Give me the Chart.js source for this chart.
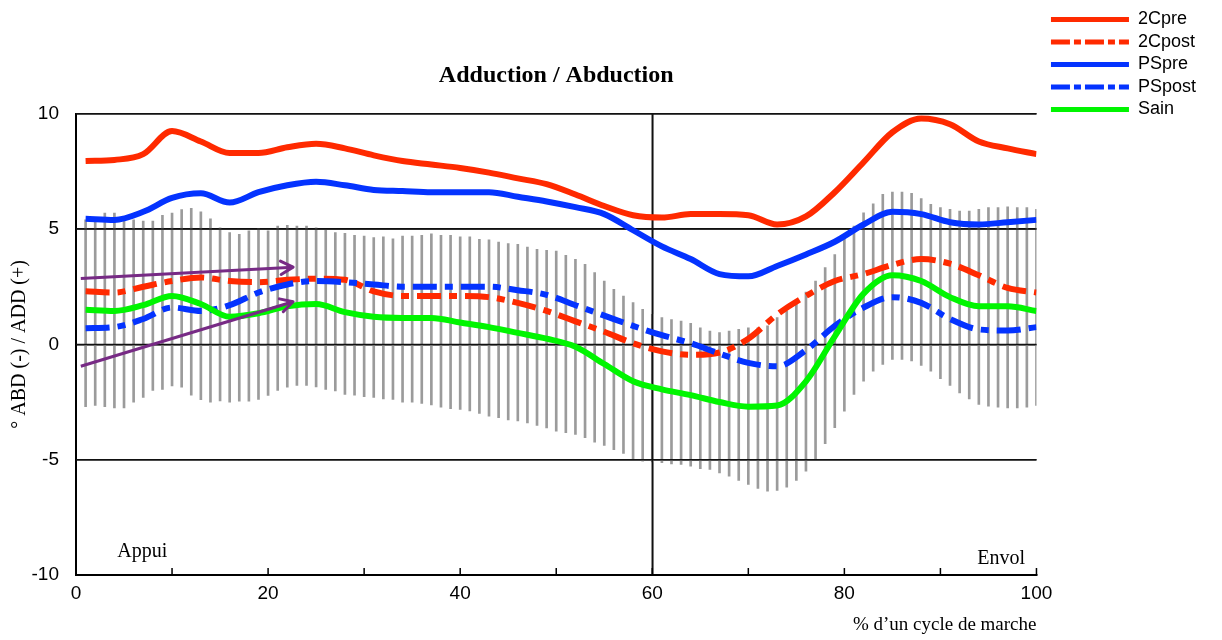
<!DOCTYPE html>
<html>
<head>
<meta charset="utf-8">
<title>Adduction / Abduction</title>
<script src="https://cdn.jsdelivr.net/npm/chart.js@4/dist/chart.umd.min.js"></script>
<style>
  html, body { margin: 0; padding: 0; background: #fff; }
  canvas { display: block; }
</style>
</head>
<body>
<canvas id="chart" width="1222" height="640"></canvas>
<script>
// % of the gait cycle where the group curves are sampled
const cyclePct = [1, 4, 7, 10, 13, 16, 19, 22, 25, 28, 31, 34, 37, 40, 43, 46, 49,
  52, 55, 58, 61, 64, 67, 70, 73, 76, 79, 82, 85, 88, 91, 94, 97, 100];

// mean hip adduction (+) / abduction (-), degrees
const pre2C = [7.95, 8.0, 8.25, 9.25, 8.8, 8.3, 8.3, 8.55, 8.7, 8.5, 8.2, 7.95, 7.8, 7.65, 7.45, 7.2, 6.95,
  6.5, 6.0, 5.6, 5.5, 5.65, 5.65, 5.6, 5.2, 5.55, 6.6, 7.9, 9.2, 9.8, 9.55, 8.8, 8.5, 8.25];
const post2C = [2.3, 2.25, 2.5, 2.75, 2.9, 2.75, 2.7, 2.8, 2.85, 2.8, 2.3, 2.1, 2.1, 2.1, 2.05, 1.8, 1.45,
  1.0, 0.55, 0.05, -0.3, -0.45, -0.35, 0.25, 1.3, 2.1, 2.75, 3.05, 3.45, 3.7, 3.5, 3.0, 2.45, 2.25];
const prePS = [5.45, 5.4, 5.75, 6.35, 6.55, 6.15, 6.6, 6.9, 7.05, 6.9, 6.7, 6.65, 6.6, 6.6, 6.6, 6.4, 6.2,
  5.95, 5.65, 4.95, 4.25, 3.7, 3.05, 2.95, 3.4, 3.9, 4.45, 5.2, 5.75, 5.65, 5.3, 5.2, 5.3, 5.4];
const postPS = [0.7, 0.75, 1.1, 1.6, 1.45, 1.7, 2.25, 2.6, 2.75, 2.7, 2.6, 2.5, 2.5, 2.5, 2.5, 2.35, 2.15,
  1.7, 1.25, 0.8, 0.4, 0.05, -0.4, -0.8, -0.95, -0.25, 0.8, 1.6, 2.05, 1.8, 1.1, 0.65, 0.6, 0.75];
const sain = [1.5, 1.45, 1.7, 2.1, 1.75, 1.2, 1.35, 1.65, 1.75, 1.4, 1.2, 1.15, 1.15, 0.95, 0.75, 0.5, 0.25,
  -0.1, -0.85, -1.6, -1.95, -2.2, -2.5, -2.7, -2.65, -1.6, 0.35, 2.2, 3.0, 2.75, 2.05, 1.65, 1.65, 1.45];

// spread of the healthy group, one bar per % of cycle (1..100)
const sainHigh = [
  5.4, 5.35, 5.7, 5.7, 5.5, 5.4, 5.35, 5.35, 5.6, 5.7,
  5.85, 5.9, 5.75, 5.45, 5.05, 4.85, 4.77, 4.92, 5.02, 4.92,
  5.13, 5.16, 5.13, 5.13, 5.06, 4.96, 4.85, 4.82, 4.73, 4.7,
  4.63, 4.66, 4.58, 4.7, 4.7, 4.73, 4.8, 4.73, 4.73, 4.66,
  4.66, 4.56, 4.53, 4.44, 4.37, 4.34, 4.22, 4.12, 4.08, 4.05,
  3.86, 3.69, 3.47, 3.11, 2.75, 2.39, 2.1, 1.81, 1.52, 1.3,
  1.16, 1.08, 1.01, 0.91, 0.72, 0.58, 0.51, 0.58, 0.65, 0.72,
  0.72, 0.8, 1.16, 1.44, 1.88, 2.27, 2.75, 3.33, 3.9, 4.56,
  5.13, 5.71, 6.1, 6.51, 6.61, 6.61, 6.55, 6.32, 6.07, 5.93,
  5.86, 5.78, 5.78, 5.86, 5.93, 5.93, 5.97, 5.93, 5.93, 5.86];
const sainLow = [
  -2.7, -2.65, -2.7, -2.75, -2.75, -2.5, -2.3, -2.0, -1.95, -1.8,
  -1.85, -2.2, -2.4, -2.5, -2.45, -2.5, -2.46, -2.46, -2.39, -2.21,
  -2.0, -1.85, -1.78, -1.78, -1.84, -1.95, -2.02, -2.17, -2.2, -2.27,
  -2.3, -2.36, -2.39, -2.5, -2.5, -2.56, -2.62, -2.72, -2.79, -2.82,
  -2.89, -2.99, -3.11, -3.18, -3.28, -3.32, -3.4, -3.51, -3.62, -3.76,
  -3.83, -3.9, -4.05, -4.24, -4.38, -4.56, -4.73, -4.96, -5.06, -5.1,
  -5.13, -5.18, -5.21, -5.28, -5.39, -5.42, -5.57, -5.71, -5.9, -6.07,
  -6.25, -6.36, -6.33, -6.19, -5.9, -5.5, -4.96, -4.3, -3.61, -2.9,
  -2.17, -1.59, -1.16, -0.87, -0.65, -0.65, -0.72, -0.91, -1.16, -1.49,
  -1.78, -2.1, -2.36, -2.6, -2.68, -2.72, -2.75, -2.75, -2.72, -2.65];
const barPct = sainHigh.map((_, i) => i + 1);

// the two trend arrows over the early stance phase
const arrowUpper = [{x: 0.5, y: 2.86}, {x: 22.6, y: 3.35}];
const arrowLower = [{x: 0.5, y: -0.95}, {x: 22.6, y: 1.85}];

const phaseLabels = [
  {text: 'Appui', x: 4.3, y: -9.0, align: 'left'},
  {text: 'Envol', x: 98.8, y: -9.3, align: 'right'}
];

const RED = '#ff2a00', BLUE = '#0433ff', GREEN = '#00f500', PURPLE = '#772a85';
const DASH_DOT = [24, 8, 8, 8];

const points = values => cyclePct.map((x, i) => ({x, y: values[i]}));

const curve = (label, values, color, dashed, order) => ({
  type: 'line',
  label,
  data: points(values),
  borderColor: color,
  backgroundColor: color,
  borderWidth: 6,
  borderDash: dashed ? DASH_DOT : [],
  borderCapStyle: 'butt',
  borderJoinStyle: 'round',
  cubicInterpolationMode: 'monotone',
  pointRadius: 0,
  fill: false,
  order
});

const arrow = data => ({
  type: 'line',
  label: '',
  data,
  borderColor: PURPLE,
  borderWidth: 3,
  pointRadius: 0,
  tension: 0,
  fill: false,
  arrow: true,
  order: -1
});

// rules over the spread bars, inward x ticks, arrowheads and phase labels
const decorations = {
  id: 'decorations',
  afterLayout(chart) {
    chart.legend.left += 10;
    chart.legend.right += 10;
  },
  afterDatasetDraw(chart, args) {
    if (args.meta.type !== 'bar') return;
    const {ctx, chartArea: a, scales: {x, y}} = chart;
    ctx.save();
    ctx.strokeStyle = '#111';
    ctx.lineWidth = 1.5;
    ctx.beginPath();
    y.ticks.forEach(t => {
      if (t.value <= y.min) return;
      const py = y.getPixelForValue(t.value);
      ctx.moveTo(a.left, py);
      ctx.lineTo(a.right, py);
    });
    const px = x.getPixelForValue(60);
    ctx.moveTo(px, a.top);
    ctx.lineTo(px, a.bottom);
    ctx.stroke();
    ctx.restore();
  },
  afterDatasetsDraw(chart) {
    const {ctx, chartArea: a, scales: {x, y}} = chart;
    ctx.save();

    ctx.strokeStyle = '#000';
    ctx.lineWidth = 1.5;
    ctx.beginPath();
    x.ticks.forEach(t => {
      if (t.value <= x.min) return;
      const px = x.getPixelForValue(t.value);
      ctx.moveTo(px, a.bottom);
      ctx.lineTo(px, a.bottom - 7);
    });
    ctx.stroke();

    chart.data.datasets.forEach((ds, i) => {
      if (!ds.arrow) return;
      const pts = chart.getDatasetMeta(i).data;
      const tip = pts[pts.length - 1], from = pts[pts.length - 2];
      const ang = Math.atan2(tip.y - from.y, tip.x - from.x);
      ctx.strokeStyle = ds.borderColor;
      ctx.lineWidth = ds.borderWidth;
      ctx.lineCap = 'round';
      ctx.beginPath();
      [-0.5, 0.5].forEach(d => {
        ctx.moveTo(tip.x, tip.y);
        ctx.lineTo(tip.x - 14 * Math.cos(ang + d), tip.y - 14 * Math.sin(ang + d));
      });
      ctx.stroke();
    });

    ctx.fillStyle = '#000';
    ctx.font = '20px "Liberation Serif"';
    ctx.textBaseline = 'middle';
    phaseLabels.forEach(p => {
      ctx.textAlign = p.align;
      ctx.fillText(p.text, x.getPixelForValue(p.x), y.getPixelForValue(p.y));
    });
    ctx.restore();
  }
};

Chart.defaults.font.family = '"Liberation Sans", Arial, sans-serif';
Chart.defaults.color = '#000';

new Chart(document.getElementById('chart'), {
  type: 'line',
  data: {
    datasets: [
      curve('2Cpre', pre2C, RED, false, 5),
      curve('2Cpost', post2C, RED, true, 3),
      curve('PSpre', prePS, BLUE, false, 4),
      curve('PSpost', postPS, BLUE, true, 2),
      curve('Sain', sain, GREEN, false, 1),
      {
        type: 'bar',
        label: '',
        data: barPct.map((x, i) => ({x, y: [sainLow[i], sainHigh[i]]})),
        backgroundColor: '#9b9b9b',
        borderWidth: 0,
        barThickness: 2,
        order: 6
      },
      arrow(arrowUpper),
      arrow(arrowLower)
    ]
  },
  options: {
    responsive: false,
    animation: false,
    layout: {padding: {left: 5, right: 26, top: 6, bottom: 2}},
    plugins: {
      title: {
        display: true,
        text: 'Adduction / Abduction',
        fullSize: false,
        font: {family: '"Liberation Serif", serif', size: 24, weight: 'bold'},
        color: '#000',
        padding: {top: 55, bottom: 24}
      },
      legend: {
        position: 'right',
        align: 'start',
        labels: {
          usePointStyle: true,
          pointStyle: 'line',
          pointStyleWidth: 78,
          padding: 4.5,
          color: '#000',
          font: {size: 18},
          sort: (a, b) => a.datasetIndex - b.datasetIndex,
          generateLabels(chart) {
            return Chart.defaults.plugins.legend.labels.generateLabels(chart)
              .filter(item => item.text)
              .map(item => {
                const ds = chart.data.datasets[item.datasetIndex];
                return Object.assign(item, {
                  strokeStyle: ds.borderColor,
                  lineWidth: 5,
                  lineCap: 'butt',
                  lineDash: ds.borderDash.length ? [19, 4, 7, 4] : []
                });
              });
          }
        }
      },
      tooltip: {enabled: false}
    },
    scales: {
      x: {
        type: 'linear',
        min: 0,
        max: 100,
        offset: false,
        afterFit: s => { s.height = 63; },
        grid: {
          offset: false,
          color: c => (c.tick && c.tick.value === 60 ? '#000' : 'rgba(0,0,0,0)'),
          lineWidth: 1.5,
          drawTicks: false
        },
        border: {color: '#000', width: 2},
        ticks: {
          stepSize: 10,
          autoSkip: false,
          maxRotation: 0,
          padding: 7,
          font: {size: 19},
          callback: v => (v % 20 === 0 ? v : '')
        },
        title: {
          display: true,
          text: '% d’un cycle de marche',
          align: 'end',
          font: {family: '"Liberation Serif", serif', size: 19},
          padding: {top: 12, bottom: 2}
        }
      },
      y: {
        min: -10,
        max: 10,
        afterFit: s => { s.width = 71; },
        grid: {color: '#111', lineWidth: 1.5, drawTicks: false},
        border: {color: '#000', width: 2},
        ticks: {stepSize: 5, padding: 17, font: {size: 19}},
        title: {
          display: true,
          text: '° ABD (-) / ADD (+)',
          font: {family: '"Liberation Serif", serif', size: 20},
          padding: {top: 3, bottom: 4}
        }
      }
    }
  },
  plugins: [decorations]
});
</script>
</body>
</html>
